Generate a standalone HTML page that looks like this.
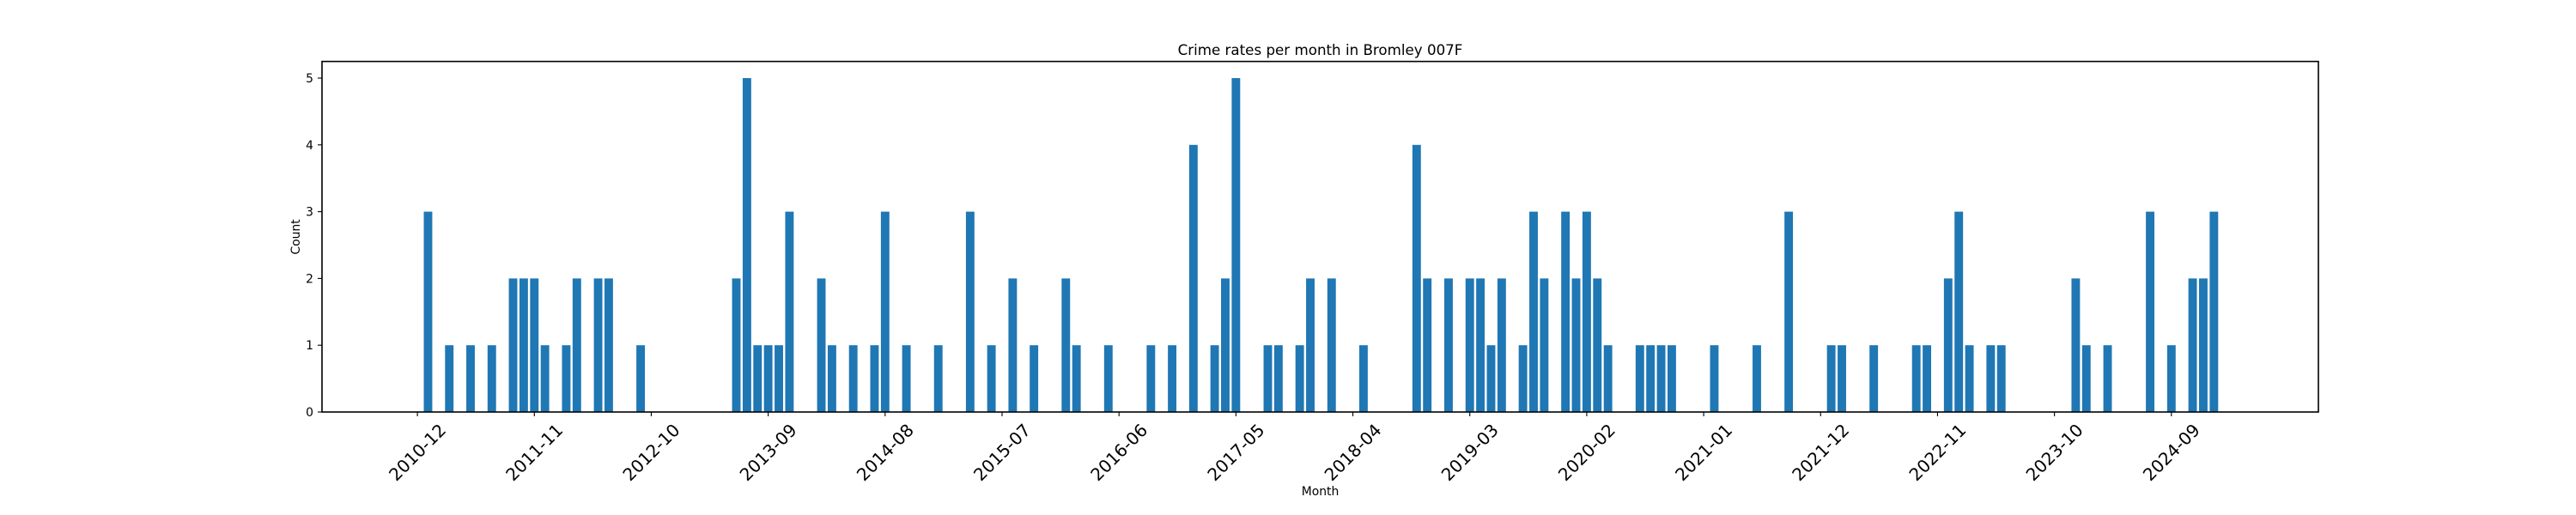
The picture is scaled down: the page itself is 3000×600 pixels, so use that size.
<!DOCTYPE html>
<html><head><meta charset="utf-8"><style>
html,body{margin:0;padding:0;background:#fff;}
svg{display:block;font-family:"DejaVu Sans","Liberation Sans",sans-serif;}
</style></head><body>
<svg id="chart" width="3000" height="600" viewBox="0 0 3000 600" xmlns="http://www.w3.org/2000/svg">
<rect x="0" y="0" width="3000" height="600" fill="#fff"/>
<text x="1537.5" y="64" font-size="16.7" text-anchor="middle" fill="#000">Crime rates per month in Bromley 007F</text>
<text x="1537.5" y="577" font-size="13.9" text-anchor="middle" fill="#000">Month</text>
<text x="0" y="0" font-size="13.9" text-anchor="middle" fill="#000" transform="translate(349,276) rotate(-90)">Count</text>
<g id="bars"></g>
<g id="xticks"></g>
<g id="yticks"></g>
<rect x="375" y="71.6" width="2325" height="408.4" fill="none" stroke="#000" stroke-width="1.6"/>
</svg>
<script>
// month index since 2010-12
const monthIdx = [1,3,5,7,9,10,11,12,14,15,17,18,21,30,31,32,33,34,35,38,39,41,43,44,46,
49,52,54,56,58,61,62,65,69,71,73,75,76,77,80,81,83,84,86,89,94,95,
97,99,100,101,102,104,105,106,108,109,110,111,112,115,116,117,118,122,126,129,133,134,137,141,142,
144,145,146,148,149,156,157,159,163,165,167,168,169];
const counts = [3,1,1,1,2,2,2,1,1,2,2,2,1,2,5,1,1,1,3,2,1,1,1,3,1,
1,3,1,2,1,2,1,1,1,1,4,1,2,5,1,1,1,2,2,1,4,2,
2,2,2,1,2,1,3,2,3,2,3,2,1,1,1,1,1,1,1,3,1,1,1,1,1,
2,3,1,1,1,2,1,1,3,1,2,2,3];
const xTickLabels = ["2010-12","2011-11","2012-10","2013-09","2014-08","2015-07","2016-06","2017-05","2018-04","2019-03","2020-02","2021-01","2021-12","2022-11","2023-10","2024-09"];
const xTickIdx = [0,11,22,33,44,55,66,77,88,99,110,121,132,143,154,165];
const yTicks = [0,1,2,3,4,5];

const NS="http://www.w3.org/2000/svg";
const X0=486.1, DX=12.38, Y0=480, DY=77.8, BW=9.9;
function xs(m){return X0+DX*m;}
function ys(v){return Y0-DY*v;}
function mk(tag,attrs,parent){const e=document.createElementNS(NS,tag);for(const k in attrs)e.setAttribute(k,attrs[k]);parent.appendChild(e);return e;}

const bars=document.getElementById('bars');
monthIdx.forEach((m,i)=>{
  const r=mk('rect',{x:xs(m)-BW/2,y:ys(counts[i]),width:BW,height:Y0-ys(counts[i]),fill:'#1f77b4'},bars);
  
  
});
const xt=document.getElementById('xticks');
xTickIdx.forEach((m,i)=>{
  const x=xs(m);
  const l=mk('line',{x1:x,y1:480,x2:x,y2:485,stroke:'#000','stroke-width':1.1},xt);
  
  
  const t=mk('text',{x:0,y:7,'font-size':20,'text-anchor':'middle',fill:'#000',transform:`translate(${x},527) rotate(-45)`},xt);
  t.textContent=xTickLabels[i];
  
  
});
const yt=document.getElementById('yticks');
yTicks.forEach(v=>{
  const y=ys(v);
  const l=mk('line',{x1:370,y1:y,x2:375,y2:y,stroke:'#000','stroke-width':1.1},yt);
  
  
  const t=mk('text',{x:365,y:y+5,'font-size':13.9,'text-anchor':'end',fill:'#000'},yt);
  t.textContent=String(v);
  
  
});
</script>
</body></html>
